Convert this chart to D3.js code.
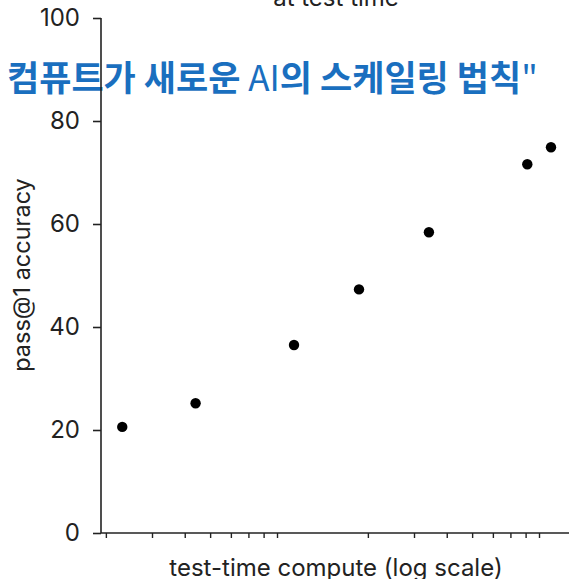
<!DOCTYPE html>
<html>
<head>
<meta charset="utf-8">
<script src="https://cdn.jsdelivr.net/npm/d3@7"></script>
<style>
  html, body { margin: 0; padding: 0; background: #fff; }
  svg { display: block; }
</style>
</head>
<body>
<svg id="chart" width="569" height="579"></svg>
<script>
// ---- data ----
const computeValues = [2.31, 4.40, 10.45, 18.5, 34.2, 81.2, 100];
const accuracyValues = [20.6, 25.2, 36.5, 47.3, 58.4, 71.6, 74.9];
const yTickValues = [0, 20, 40, 60, 80, 100];
const xTickValues = [2, 3, 4, 5, 6, 7, 8, 9, 20, 30, 40, 50, 60, 70, 80, 90, 200, 300];
const titleText = "at test time";
const xLabelText = "test-time compute (log scale)";
const yLabelText = "pass@1 accuracy";
const overlayParts = [
  { t: "컴퓨트가 새로운 ", bold: true },
  { t: "AI", bold: false },
  { t: "의 스케일링 법칙", bold: true },
  { t: "\"", bold: false }
];

const svg = d3.select("#chart");
const W = 569, H = 579;
const axisColor = "#222";
const font = "Inter, 'Liberation Sans', Arial, sans-serif";

svg.append("rect").attr("width", W).attr("height", H).attr("fill", "#fff");

const x = d3.scaleLog().domain([1, 100]).range([27, 551]);
const y = d3.scaleLinear().domain([0, 100]).range([533, 18]);
const axisX0 = 101;

// title (cut off at top)
svg.append("text")
  .attr("x", 336).attr("y", 6)
  .attr("text-anchor", "middle")
  .attr("font-family", font).attr("font-size", 24)
  .attr("fill", "#222")
  .text(titleText);

// overlay korean text (drawn under axis)
const ov = svg.append("text")
  .attr("x", 7).attr("y", 91)
  .attr("font-family", "'Noto Sans CJK KR', 'Noto Sans', sans-serif")
  .attr("font-size", 35)
  .attr("fill", "#1a6fbf");
overlayParts.forEach(p => {
  ov.append("tspan").attr("font-weight", p.bold ? 700 : 400).text(p.t);
});

// y axis
const yAxis = d3.axisLeft(y).tickValues(yTickValues).tickSize(8).tickPadding(13);
const gy = svg.append("g").attr("transform", `translate(${axisX0},0)`).call(yAxis);
gy.select(".domain").remove();
gy.append("line").attr("x1", 0).attr("x2", 0).attr("y1", y(100)).attr("y2", y(0))
  .attr("stroke", axisColor).attr("stroke-width", 1.6);
gy.selectAll(".tick line").attr("stroke", axisColor).attr("stroke-width", 1.6);
gy.selectAll(".tick text").attr("font-family", font).attr("font-size", 24).attr("fill", "#222");

// x axis
const xAxis = d3.axisBottom(x).tickValues(xTickValues).tickSize(5).tickFormat("");
const gx = svg.append("g").attr("transform", `translate(0,${y(0)})`).call(xAxis);
gx.select(".domain").remove();
gx.append("line").attr("x1", axisX0).attr("x2", W + 10).attr("y1", 0).attr("y2", 0)
  .attr("stroke", axisColor).attr("stroke-width", 1.6);
gx.selectAll(".tick line").attr("stroke", axisColor).attr("stroke-width", 1.4);

// labels
svg.append("text")
  .attr("x", 336).attr("y", 576)
  .attr("text-anchor", "middle")
  .attr("font-family", font).attr("font-size", 24).attr("fill", "#222")
  .text(xLabelText);

svg.append("text")
  .attr("transform", `translate(30,275) rotate(-90)`)
  .attr("text-anchor", "middle")
  .attr("font-family", font).attr("font-size", 23.5).attr("fill", "#222")
  .text(yLabelText);

// points
svg.append("g").selectAll("circle")
  .data(computeValues.map((c, i) => ({ c, a: accuracyValues[i] })))
  .join("circle")
  .attr("cx", d => x(d.c))
  .attr("cy", d => y(d.a))
  .attr("r", 5.2)
  .attr("fill", "#000");
</script>
</body>
</html>
